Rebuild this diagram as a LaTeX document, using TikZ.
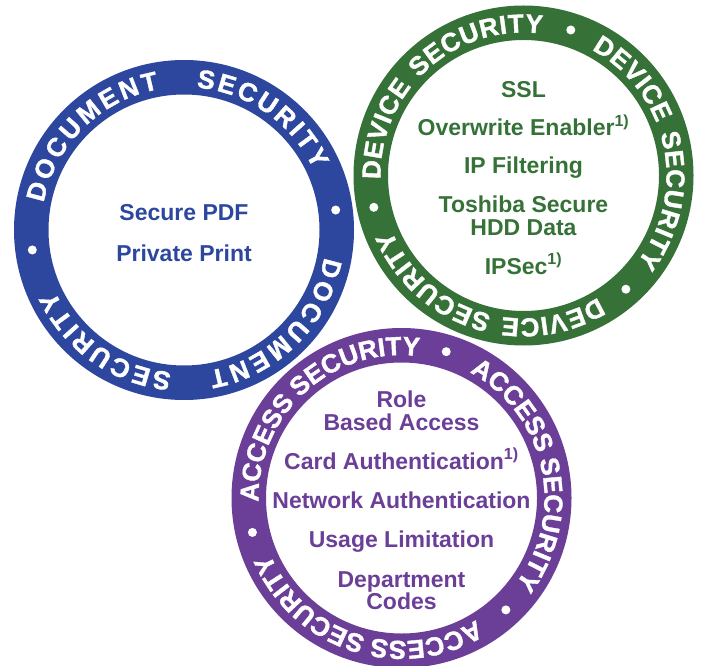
\documentclass[tikz,border=0pt]{standalone}
\usepackage{fontspec}
\setmainfont{Liberation Sans}
\newfontfamily\ringfamily[FakeBold=1.5]{Liberation Sans Bold}
\usetikzlibrary{decorations.text}
\definecolor{docblue}{HTML}{2C479D}
\definecolor{devgreen}{HTML}{367238}
\definecolor{accpurple}{HTML}{6B3F97}
\newcommand{\ringfont}{\ringfamily\fontsize{26}{26}\selectfont}
\tikzset{
    ring/.style={even odd rule, fill=#1},
    ringtext/.style={decorate, decoration={text along path, text align=fit to path, text color=white, text={|\ringfont|#1}}},
    ringdot/.style={fill=white},
    % Feature lists inside the rings
    item/.style={font=\fontsize{23}{23}\selectfont\bfseries, inner sep=0pt, text height=16pt, text depth=0pt},
    docitem/.style={item, text=docblue},
    devitem/.style={item, text=devgreen},
    accitem/.style={item, text=accpurple}
}
\begin{document}
\begin{tikzpicture}[x=1pt, y=1pt]
\useasboundingbox (0,0) rectangle (703,665);
% Ring centres
\coordinate (doc) at (184,435);
\coordinate (dev) at (523.5,489.5);
\coordinate (acc) at (401.5,167);

% Document security ring
\fill[ring=docblue] (doc) circle[radius=170] circle[radius=135.5];
\foreach \a in {0,180} {
    \path[ringtext=DOCUMENT] ([shift={(169-\a:143)}]doc) arc[start angle=169-\a, end angle=100-\a, radius=143];
    \path[ringtext=SECURITY] ([shift={(85-\a:143)}]doc) arc[start angle=85-\a, end angle=25-\a, radius=143];
    \fill[ringdot] ([shift={(7.5-\a:153)}]doc) circle[radius=4.5];
}

% Device security ring
\fill[ring=devgreen] (dev) circle[radius=170] circle[radius=135.5];
\foreach \a in {0,120,240} {
    \path[ringtext=DEVICE] ([shift={(181.5-\a:143)}]dev) arc[start angle=181.5-\a, end angle=141.5-\a, radius=143];
    \path[ringtext=SECURITY] ([shift={(137-\a:143)}]dev) arc[start angle=137-\a, end angle=82.5-\a, radius=143];
    \fill[ringdot] ([shift={(72-\a:153)}]dev) circle[radius=4.5];
}

% Access security ring
\fill[ring=accpurple] (acc) circle[radius=170] circle[radius=135.5];
\foreach \a in {0,120,240} {
    \path[ringtext=ACCESS] ([shift={(181.5-\a:143)}]acc) arc[start angle=181.5-\a, end angle=140.5-\a, radius=143];
    \path[ringtext=SECURITY] ([shift={(135.5-\a:143)}]acc) arc[start angle=135.5-\a, end angle=83.5-\a, radius=143];
    \fill[ringdot] ([shift={(73-\a:153)}]acc) circle[radius=4.5];
}

% Document features
\node[docitem] (pdf) at (184,452) {Secure PDF};
\node[docitem] (private) at (184,412) {Private Print};

% Device features
\node[devitem] (ssl) at (523.5,575.5) {SSL};
\node[devitem] (overwrite) at (523.5,537) {Overwrite Enabler\textsuperscript{1)}};
\node[devitem] (ipfilter) at (523.5,499) {IP Filtering};
\node[devitem] (hdda) at (523.5,460) {Toshiba Secure};
\node[devitem] (hddb) at (523.5,437) {HDD Data};
\node[devitem] (ipsec) at (523.5,399) {IPSec\textsuperscript{1)}};

% Access features
\node[accitem] (rolea) at (401.5,266) {Role};
\node[accitem] (roleb) at (401.5,242.5) {Based Access};
\node[accitem] (card) at (401.5,204) {Card Authentication\textsuperscript{1)}};
\node[accitem] (network) at (401.5,164.5) {Network Authentication};
\node[accitem] (usage) at (401.5,125.5) {Usage Limitation};
\node[accitem] (depta) at (401.5,85.5) {Department};
\node[accitem] (deptb) at (401.5,64) {Codes};
\end{tikzpicture}
\end{document}
